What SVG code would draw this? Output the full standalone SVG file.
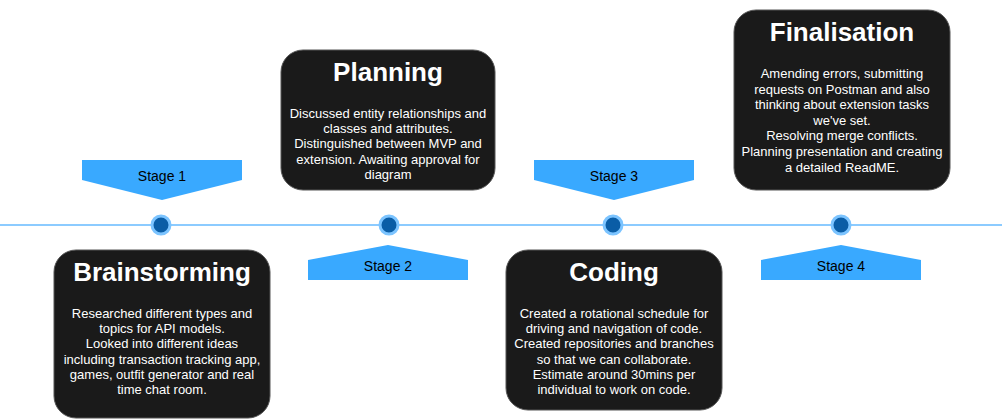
<svg xmlns="http://www.w3.org/2000/svg" width="1002" height="420" viewBox="0 0 1002 420">
<style>
.box{fill:#1a1a1a;stroke:#555;stroke-width:1}
.title{font-family:"Liberation Sans",Arial,sans-serif;font-weight:bold;font-size:26px;fill:#fff;text-anchor:middle}
.body{font-family:"Liberation Sans",Arial,sans-serif;font-size:13px;fill:#fff;text-anchor:middle}
.tag{fill:#39a9ff}
.tagt{font-family:"Liberation Sans",Arial,sans-serif;font-size:14px;fill:#000;text-anchor:middle}
.dot{fill:#0a5da6;stroke:#7cc4ff;stroke-width:3}
</style>
<rect width="1002" height="420" fill="#fff"/>
<g id="connectors">
<line x1="0" y1="225" x2="1002" y2="225" stroke="#8ccbff" stroke-width="2"/>
</g>
<g id="dots">
<circle class="dot" cx="161" cy="225" r="9"/>
<circle class="dot" cx="389" cy="225" r="9"/>
<circle class="dot" cx="613" cy="225" r="9"/>
<circle class="dot" cx="841" cy="225" r="9"/>
</g>
<g id="stage1">
<polygon class="tag" points="82,160 242,160 242,180 162,200 82,180"/>
<text class="tagt" x="162" y="181">Stage 1</text>
</g>
<g id="stage2">
<polygon class="tag" points="308,260 388,245 468,260 468,280 308,280"/>
<text class="tagt" x="388" y="271">Stage 2</text>
</g>
<g id="stage3">
<polygon class="tag" points="534,160 694,160 694,180 614,200 534,180"/>
<text class="tagt" x="614" y="181">Stage 3</text>
</g>
<g id="stage4">
<polygon class="tag" points="761,260 841,245 921,260 921,280 761,280"/>
<text class="tagt" x="841" y="271">Stage 4</text>
</g>
<g id="brainstorming">
<rect class="box" x="54" y="250" width="216" height="168" rx="22"/>
<text class="title" x="162" y="281">Brainstorming</text>
<text class="body" x="162" y="318">Researched different types and</text>
<text class="body" x="162" y="333.2">topics for API models.</text>
<text class="body" x="162" y="348.4">Looked into different ideas</text>
<text class="body" x="162" y="363.6">including transaction tracking app,</text>
<text class="body" x="162" y="378.8">games, outfit generator and real</text>
<text class="body" x="162" y="394">time chat room.</text>
</g>
<g id="planning">
<rect class="box" x="281" y="50" width="214" height="140" rx="22"/>
<text class="title" x="388" y="81">Planning</text>
<text class="body" x="388" y="118">Discussed entity relationships and</text>
<text class="body" x="388" y="133.2">classes and attributes.</text>
<text class="body" x="388" y="148.4">Distinguished between MVP and</text>
<text class="body" x="388" y="163.6">extension. Awaiting approval for</text>
<text class="body" x="388" y="178.8">diagram</text>
</g>
<g id="coding">
<rect class="box" x="506" y="250" width="216" height="160" rx="22"/>
<text class="title" x="614" y="281">Coding</text>
<text class="body" x="614" y="318">Created a rotational schedule for</text>
<text class="body" x="614" y="333.2">driving and navigation of code.</text>
<text class="body" x="614" y="348.4">Created repositories and branches</text>
<text class="body" x="614" y="363.6">so that we can collaborate.</text>
<text class="body" x="614" y="378.8">Estimate around 30mins per</text>
<text class="body" x="614" y="394">individual to work on code.</text>
</g>
<g id="finalisation">
<rect class="box" x="734" y="10" width="216" height="180" rx="22"/>
<text class="title" x="842" y="41">Finalisation</text>
<text class="body" x="842" y="78">Amending errors, submitting</text>
<text class="body" x="842" y="93.6">requests on Postman and also</text>
<text class="body" x="842" y="109.2">thinking about extension tasks</text>
<text class="body" x="842" y="124.8">we've set.</text>
<text class="body" x="842" y="140.4">Resolving merge conflicts.</text>
<text class="body" x="842" y="156">Planning presentation and creating</text>
<text class="body" x="842" y="171.6">a detailed ReadME.</text>
</g>
</svg>
